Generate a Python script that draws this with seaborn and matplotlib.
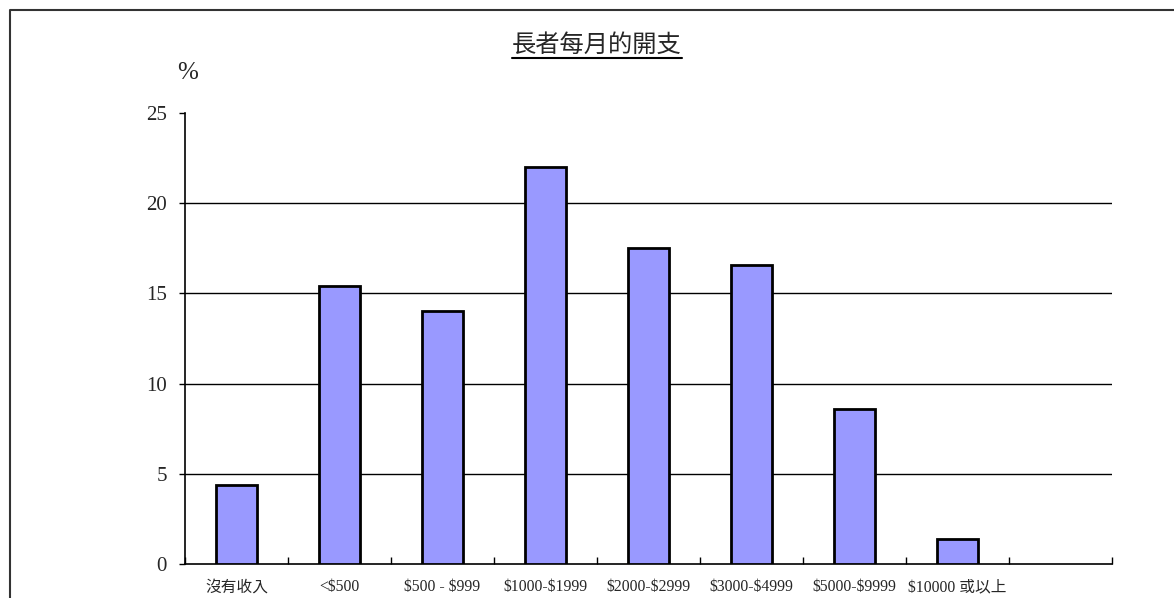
import matplotlib
matplotlib.use("Agg")
import matplotlib.pyplot as plt
from matplotlib.lines import Line2D
import seaborn as sns
import pandas as pd

categories = ["沒有收入", "<$500", "$500 - $999", "$1000-$1999", "$2000-$2999",
              "$3000-$4999", "$5000-$9999", "$10000 或以上"]
values = [4.4, 15.4, 14.0, 22.0, 17.5, 16.6, 8.6, 1.4]
y_ticks = [0, 5, 10, 15, 20, 25]
title = "長者每月的開支"
y_unit = "%"

sns.set_theme(style="white")
plt.rcParams['font.family'] = ['Liberation Serif', 'Noto Sans CJK TC', 'DejaVu Sans']
plt.rcParams['text.parse_math'] = False

df = pd.DataFrame({"cat": categories, "val": values})

W, H = 1174, 598
fig = plt.figure(figsize=(W / 100, H / 100), dpi=100)
fig.patch.set_facecolor("white")
ax = fig.add_axes([185 / W, 1 - 564 / H, (1112 - 185) / W, (564 - 113) / H])

sns.barplot(data=df, x="cat", y="val", order=categories, color="#9999FF",
            saturation=1, width=0.4, edgecolor="black", linewidth=2, ax=ax, zorder=3)

n_slots = len(categories) + 1
ax.set_xlim(-0.5, n_slots - 0.5)
ax.set_ylim(0, 25)

for v in y_ticks[1:-1]:
    ax.axhline(v, color="black", linewidth=1, zorder=1)

ax.set_yticks(y_ticks)
ax.set_yticklabels([str(t) for t in y_ticks], fontsize=15, family=['Liberation Serif'])
ax.tick_params(axis="y", direction="out", length=4, width=1, color="black", pad=9, left=True)

ax.set_xticks(range(len(categories)))
ax.set_xticklabels(categories, fontsize=11.3,
                   family=['Liberation Serif', 'Noto Sans CJK TC'])
ax.tick_params(axis="x", length=0, pad=11)
# minor ticks at category boundaries, pointing inward
ax.set_xticks([i - 0.5 for i in range(n_slots + 1)], minor=True)
ax.tick_params(axis="x", which="minor", direction="in", length=5, width=1, color="black", bottom=True)

ax.set_xlabel("")
ax.set_ylabel("")
for s in ["top", "right"]:
    ax.spines[s].set_visible(False)
for s in ["left", "bottom"]:
    ax.spines[s].set_color("black")
    ax.spines[s].set_linewidth(1.2)

# % label
fig.text(188 / W, 1 - 73 / H, y_unit, fontsize=18,
         family=['Liberation Serif'], ha="center", va="center")

# title with underline
t = fig.text(597 / W, 1 - 45 / H, title, fontsize=17.5, family=['Noto Sans CJK TC'],
             ha="center", va="center")
fig.canvas.draw()
bb = t.get_window_extent()
x0, x1 = bb.x0 / W, bb.x1 / W
fig.add_artist(Line2D([x0, x1], [1 - 58 / H, 1 - 58 / H], color="black", linewidth=1.5,
                      transform=fig.transFigure))

# figure border (left and top only visible)
fig.add_artist(Line2D([10 / W, 10 / W, 1.0], [0.0, 1 - 10 / H, 1 - 10 / H],
                      color="#333333", linewidth=1.5, transform=fig.transFigure))

fig.savefig("out.png", dpi=100, facecolor="white")
